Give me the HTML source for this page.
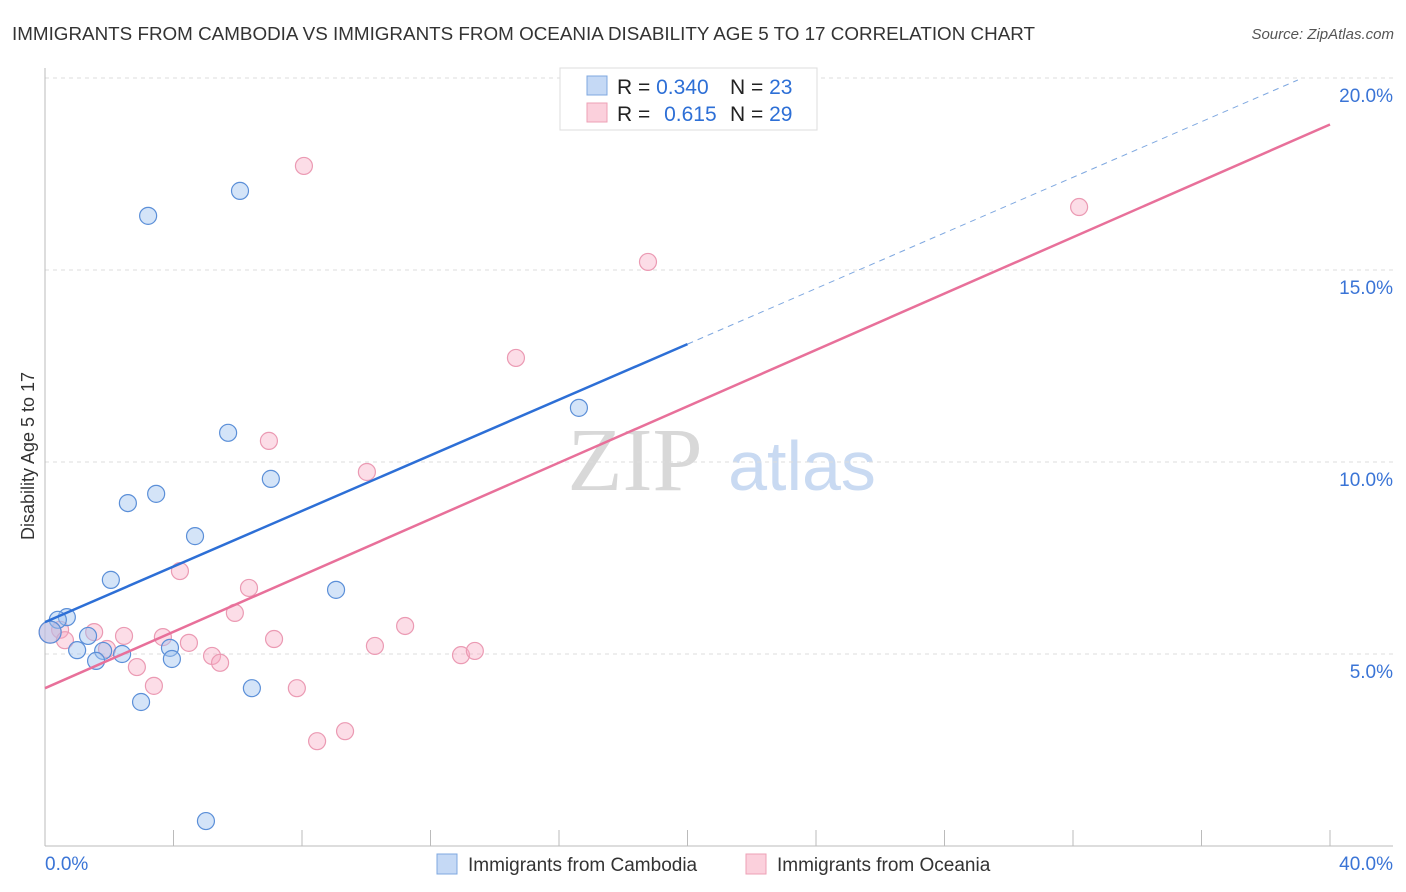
<!DOCTYPE html>
<html><head><meta charset="utf-8"><style>
body{margin:0;background:#fff;font-family:"Liberation Sans",sans-serif;overflow:hidden;}
</style></head><body>
<svg id="chart" width="1406" height="892" xmlns="http://www.w3.org/2000/svg" font-family="Liberation Sans, sans-serif" style="display:block">
<text x="12" y="40" font-size="18" fill="#333" textLength="1023" lengthAdjust="spacingAndGlyphs">IMMIGRANTS FROM CAMBODIA VS IMMIGRANTS FROM OCEANIA DISABILITY AGE 5 TO 17 CORRELATION CHART</text>
<text x="1394" y="39" font-size="15" fill="#555" text-anchor="end" font-style="italic">Source: ZipAtlas.com</text>
<g>
<text x="635" y="490" font-size="90" fill="#d8d8d8" font-family="Liberation Serif, serif" text-anchor="middle">ZIP</text>
<text x="802" y="490" font-size="70" fill="#c9daf2" text-anchor="middle">atlas</text>
</g>
<g id="grid"></g>
<g id="axes"></g>
<g id="marks"></g>
<text transform="translate(34,456) rotate(-90)" font-size="18" fill="#333" text-anchor="middle">Disability Age 5 to 17</text>
<g>
<rect x="560" y="68" width="257" height="62" fill="#fff" stroke="#ddd"/>
<rect x="587" y="76" width="20" height="19" fill="#c5d9f5" stroke="#7fa8e0"/>
<rect x="587" y="103" width="20" height="19" fill="#fbd0dc" stroke="#eea0b6"/>
<text x="617" y="94" font-size="21" fill="#222">R = <tspan fill="#2d6fd6">0.340</tspan></text>
<text x="730" y="94" font-size="21" fill="#222">N = <tspan fill="#2d6fd6">23</tspan></text>
<text x="617" y="121" font-size="21" fill="#222">R = <tspan fill="#2d6fd6" dx="8">0.615</tspan></text>
<text x="730" y="121" font-size="21" fill="#222">N = <tspan fill="#2d6fd6">29</tspan></text>
</g>
<g>
<rect x="437" y="854" width="20" height="20" fill="#c5d9f5" stroke="#7fa8e0"/>
<text x="468" y="871" font-size="19" fill="#333">Immigrants from Cambodia</text>
<rect x="746" y="854" width="20" height="20" fill="#fbd0dc" stroke="#eea0b6"/>
<text x="777" y="871" font-size="19" fill="#333">Immigrants from Oceania</text>
</g>
</svg>
<script>
const blueX=[3.21,6.07,5.70,7.03,3.46,2.58,4.67,2.05,9.06,16.62,0.68,0.40,1.34,3.89,1.00,1.81,2.40,3.95,1.59,6.44,2.99,5.01,0.16];
const blueY=[16.41,17.06,10.76,9.56,9.17,8.93,8.07,6.93,6.67,11.41,5.96,5.89,5.47,5.16,5.10,5.08,5.00,4.87,4.82,4.11,3.75,0.65,5.57];
const pinkX=[8.06,32.19,18.77,14.66,6.97,10.02,4.20,6.35,5.91,11.21,1.53,2.46,3.67,7.13,4.48,10.27,1.93,5.20,12.95,13.38,5.45,2.86,3.39,7.84,9.34,8.47,0.47,0.16,0.62];
const pinkY=[17.71,16.64,15.21,12.71,10.55,9.74,7.16,6.72,6.07,5.73,5.57,5.47,5.44,5.39,5.29,5.21,5.13,4.95,4.97,5.08,4.77,4.66,4.17,4.11,2.99,2.73,5.63,5.57,5.36];
const yTicks=[5,10,15,20];
const xTickVals=[0,4,8,12,16,20,24,28,32,36,40];
const blueLine=[5.83,0.362];
const pinkLine=[4.11,0.367];
const NS="http://www.w3.org/2000/svg";
const sx=v=>45+v/40*1285, sy=v=>846-v*38.4;
function mk(tag,attrs,parent){const e=document.createElementNS(NS,tag);for(const k in attrs)e.setAttribute(k,attrs[k]);document.getElementById(parent).appendChild(e);return e;}
yTicks.forEach(t=>{
 let l=mk('line',{x1:45,x2:1393,y1:sy(t),y2:sy(t),stroke:'#ddd','stroke-dasharray':'4,4'},'grid');
 
 
 let tx=mk('text',{x:1393,y:sy(t)+24,'font-size':19,fill:'#3a74d6','text-anchor':'end'},'grid');
 tx.textContent=t.toFixed(1)+'%';
 
 
});
let ax=mk('line',{x1:45,x2:1393,y1:846,y2:846,stroke:'#bbb'},'axes');


let ay=mk('line',{x1:45,x2:45,y1:68,y2:846,stroke:'#bbb'},'axes');


xTickVals.forEach(t=>{
 let l=mk('line',{x1:sx(t),x2:sx(t),y1:830,y2:846,stroke:'#bbb'},'axes');
 
 
});
[[0,'start'],[40,'end']].forEach(([t,a])=>{
 let tx=mk('text',{x:t?1393:45,y:870,'font-size':19,fill:'#3a74d6','text-anchor':a},'axes');
 tx.textContent=t.toFixed(1)+'%';
 
 
});
pinkX.forEach((x,i)=>{
 let c=mk('circle',{cx:sx(x),cy:sy(pinkY[i]),r:(i===27?11:8.5),fill:'rgba(247,170,195,0.4)',stroke:'#eb9ab3','stroke-width':1.2},'marks');
 
 
});
blueX.forEach((x,i)=>{
 let c=mk('circle',{cx:sx(x),cy:sy(blueY[i]),r:(i===22?11:8.5),fill:'rgba(160,195,240,0.45)',stroke:'#5b8fd8','stroke-width':1.2},'marks');
 
 
});
let bl=mk('line',{x1:sx(0),y1:sy(blueLine[0]),x2:sx(20),y2:sy(blueLine[0]+blueLine[1]*20),stroke:'#2d6fd6','stroke-width':2.5},'marks');


let bd=mk('line',{x1:sx(20),y1:sy(blueLine[0]+blueLine[1]*20),x2:sx(39),y2:sy(blueLine[0]+blueLine[1]*39),stroke:'#7fa8e0','stroke-width':1,'stroke-dasharray':'6,5'},'marks');


let pl=mk('line',{x1:sx(0),y1:sy(pinkLine[0]),x2:sx(40),y2:sy(pinkLine[0]+pinkLine[1]*40),stroke:'#e8709a','stroke-width':2.5},'marks');


</script>
</body></html>
